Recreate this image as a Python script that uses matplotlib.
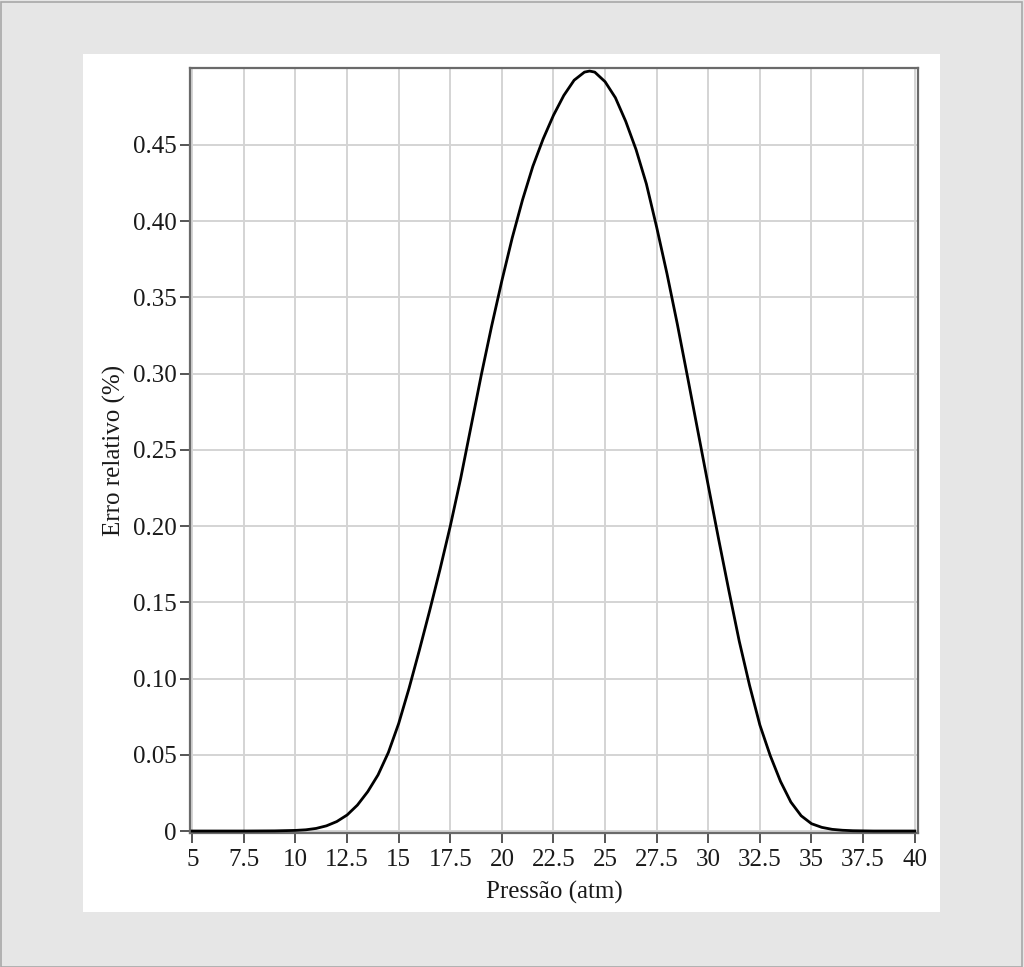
import matplotlib
matplotlib.use("Agg")
import matplotlib.pyplot as plt
from matplotlib.patches import Rectangle
from matplotlib.ticker import FixedLocator, FixedFormatter

# Data
pressao = [5, 7.5, 9, 10, 10.5, 11, 11.5, 12, 12.5, 13, 13.5, 14, 14.5, 15, 15.5,
           16, 16.5, 17, 17.5, 18, 18.5, 19, 19.5, 20, 20.5, 21, 21.5, 22, 22.5,
           23, 23.5, 24, 24.25, 24.5, 25, 25.5, 26, 26.5, 27, 27.5, 28, 28.5, 29,
           29.5, 30, 30.5, 31, 31.5, 32, 32.5, 33, 33.5, 34, 34.5, 35, 35.5, 36,
           36.5, 37, 38, 40]
erro = [0.0, 0.0, 0.0001, 0.0004, 0.0008, 0.0017, 0.0034, 0.0062, 0.0105, 0.017,
        0.0258, 0.0368, 0.0515, 0.0705, 0.0935, 0.1185, 0.1445, 0.1715, 0.200,
        0.231, 0.265, 0.299, 0.331, 0.361, 0.389, 0.414, 0.436, 0.454, 0.4695,
        0.4825, 0.4925, 0.4978, 0.4985, 0.4978, 0.4915, 0.481, 0.4655, 0.447,
        0.4245, 0.396, 0.3655, 0.3325, 0.2975, 0.262, 0.2265, 0.1915, 0.1575,
        0.1245, 0.0955, 0.0695, 0.0495, 0.0325, 0.019, 0.010, 0.0048, 0.0024,
        0.0011, 0.0005, 0.0002, 0.0, 0.0]

xticks = [5, 7.5, 10, 12.5, 15, 17.5, 20, 22.5, 25, 27.5, 30, 32.5, 35, 37.5, 40]
xticklabels = ["5", "7.5", "10", "12.5", "15", "17.5", "20", "22.5", "25",
               "27.5", "30", "32.5", "35", "37.5", "40"]
yticks = [0, 0.05, 0.10, 0.15, 0.20, 0.25, 0.30, 0.35, 0.40, 0.45]
yticklabels = ["0", "0.05", "0.10", "0.15", "0.20", "0.25", "0.30", "0.35",
               "0.40", "0.45"]
xlabel = "Pressão (atm)"
ylabel = "Erro relativo (%)"

plt.rcParams['font.family'] = ['Liberation Serif', 'DejaVu Serif']

W, H = 1024, 967
fig = plt.figure(figsize=(W / 100, H / 100), dpi=100)
fig.patch.set_facecolor('#e6e6e6')

# white panel and outer border
fig.patches.append(Rectangle((83 / W, 1 - 912 / H), (940 - 83) / W, (912 - 54) / H,
                             transform=fig.transFigure, facecolor='white',
                             edgecolor='none', zorder=-10))
fig.patches.append(Rectangle((0.5 / W, 0.5 / H), (W - 2.5) / W, (H - 2) / H,
                             transform=fig.transFigure, facecolor='none',
                             edgecolor='#a8a8a8', linewidth=1.2, zorder=-9))

left, right, top, bottom = 190, 918, 68, 833
ax = fig.add_axes([left / W, 1 - bottom / H, (right - left) / W, (bottom - top) / H])
ax.set_zorder(5)
ax.set_facecolor('white')

ax.plot(pressao, erro, color='black', linewidth=2.0, zorder=3,
        solid_joinstyle='round')

ax.set_xlim(4.89, 40.16)
ax.set_ylim(-0.0013, 0.5005)

ax.xaxis.set_major_locator(FixedLocator(xticks))
ax.xaxis.set_major_formatter(FixedFormatter(xticklabels))
ax.yaxis.set_major_locator(FixedLocator(yticks))
ax.yaxis.set_major_formatter(FixedFormatter(yticklabels))

ax.grid(True, color='#d4d4d4', linewidth=1.4, zorder=1)
ax.set_axisbelow(True)

for s in ax.spines.values():
    s.set_color('#6a6a6a')
    s.set_linewidth(1.6)

ax.tick_params(axis='both', direction='out', length=7, width=1.4, color='#555555',
               labelsize=18, labelcolor='#1a1a1a', pad=2.5)
ax.tick_params(axis='x', pad=4.5)

ax.set_xlabel(xlabel, fontsize=18, color='#1a1a1a', labelpad=7)
ax.set_ylabel(ylabel, fontsize=18, color='#1a1a1a', labelpad=5)

fig.savefig('out.png', dpi=100, facecolor=fig.get_facecolor())
